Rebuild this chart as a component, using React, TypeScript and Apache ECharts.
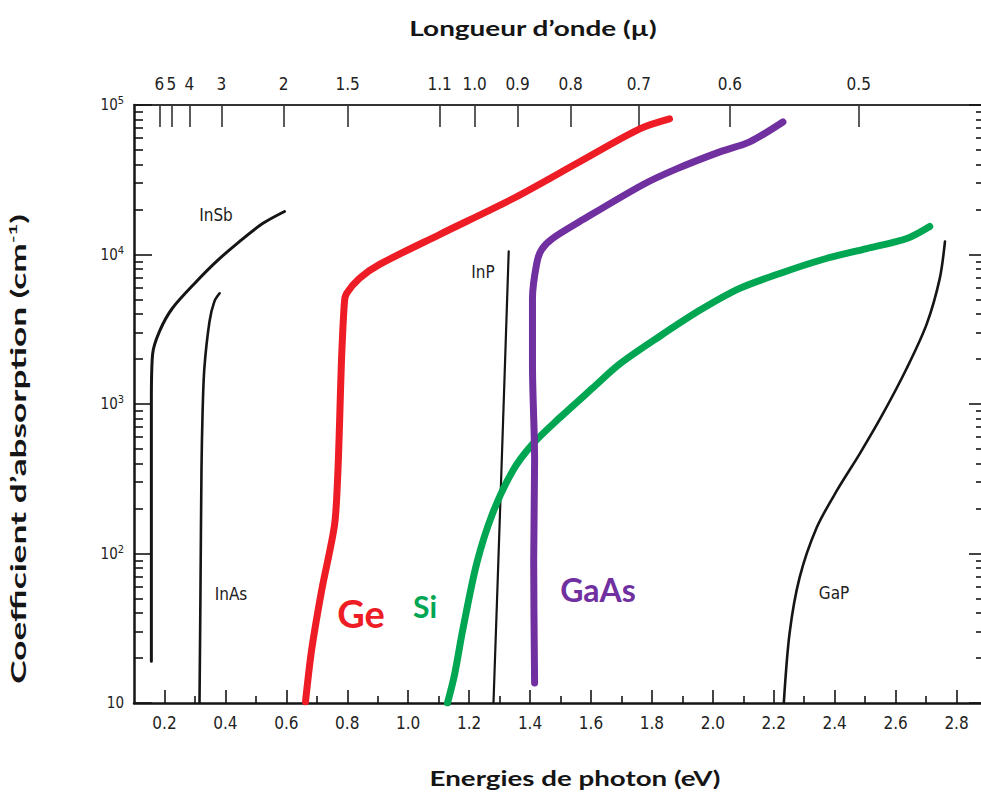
import React, { useEffect, useRef } from "react";
import * as echarts from "echarts";

// Photon energy (eV) vs absorption coefficient (cm^-1), one pair of arrays per material
const inSbEnergy = [0.157, 0.157, 0.161, 0.184, 0.226, 0.305, 0.371, 0.446, 0.522, 0.594];
const inSbAlpha = [19, 1050, 2150, 3070, 4370, 6600, 9000, 12200, 16100, 19400];

const inAsEnergy = [0.315, 0.318, 0.3215, 0.325, 0.331, 0.348, 0.364, 0.381];
const inAsAlpha = [10, 49, 360, 860, 1740, 3580, 4860, 5500];

const geEnergy = [0.663, 0.683, 0.716, 0.758, 0.768, 0.775, 0.781, 0.791, 0.798, 0.84, 0.906, 1.103, 1.343, 1.563, 1.76, 1.858];
const geAlpha = [10.2, 22.6, 56.7, 154, 307, 771, 1940, 4860, 5500, 6920, 8580, 13600, 23600, 41700, 69200, 80700];

const siEnergy = [1.129, 1.152, 1.179, 1.225, 1.277, 1.343, 1.409, 1.497, 1.606, 1.694, 1.826, 1.957, 2.088, 2.22, 2.361, 2.505, 2.637, 2.712];
const siAlpha = [10, 15.4, 30.7, 85.8, 185, 357, 541, 807, 1280, 1850, 2840, 4230, 5930, 7470, 9260, 10960, 12800, 15400];

const inPEnergy = [1.28, 1.305, 1.33];
const inPAlpha = [10, 307, 10500];

const gaAsEnergy = [1.415, 1.412, 1.415, 1.408, 1.408, 1.422, 1.438, 1.474, 1.563, 1.77, 1.881, 2.023, 2.121, 2.23];
const gaAsAlpha = [13.6, 89.9, 417, 1850, 5090, 8710, 10800, 12800, 16600, 29300, 37400, 48600, 56700, 77000];

const gaPEnergy = [2.233, 2.252, 2.285, 2.341, 2.407, 2.482, 2.558, 2.637, 2.702, 2.745, 2.762];
const gaPAlpha = [10, 29.3, 69.2, 149, 263, 464, 858, 1740, 3420, 6920, 12200];

// Bottom axis: photon energy ticks
const energyTicks = [0.2, 0.4, 0.6, 0.8, 1.0, 1.2, 1.4, 1.6, 1.8, 2.0, 2.2, 2.4, 2.6, 2.8];
const energyMinorTicks = [0.3, 0.5, 0.7, 0.9, 1.1, 1.3, 1.5, 1.7, 1.9, 2.1, 2.3, 2.5, 2.7];

// Top axis: wavelength (µ) labels and where they sit on the energy scale
const wavelengthLabels = ["6", "5", "4", "3", "2", "1.5", "1.1", "1.0", "0.9", "0.8", "0.7", "0.6", "0.5"];
const wavelengthTickEnergies = [0.1836, 0.223, 0.282, 0.387, 0.591, 0.801, 1.103, 1.218, 1.359, 1.533, 1.757, 2.056, 2.479];

// Left axis: decades (as exponents), with the 2..9 sub-decade marks
const alphaDecades = [1, 2, 3, 4, 5];
const alphaMinorTicks: number[] = [];
alphaDecades.slice(0, -1).forEach((d) => {
  for (let k = 2; k <= 9; k++) alphaMinorTicks.push(d + Math.log10(k));
});

const X_MIN = 0.1;
const X_MAX = 2.9;

const narrow = "'Liberation Sans Narrow', 'DejaVu Sans Condensed', sans-serif";
const titleFont = "Lato, 'Open Sans', sans-serif";

const RED = "#ee1c24";
const GREEN = "#00a651";
const PURPLE = "#7030a0";
const INK = "#151515";

const pairs = (xs: number[], ys: number[]) => xs.map((x, i) => [x, ys[i]]);

const curve = (name: string, xs: number[], ys: number[], color: string, width: number) => ({
  name,
  type: "line",
  xAxisIndex: 0,
  yAxisIndex: 0,
  data: pairs(xs, ys),
  showSymbol: false,
  smooth: 0.3,
  lineStyle: { color, width, cap: "round", join: "round" },
  z: color === INK ? 3 : 4,
});

const label = (
  text: string,
  x: number,
  y: number,
  color: string,
  size: number,
  weight: string,
  family: string,
  stretch = 1
) => ({
  type: "text",
  x,
  y,
  scaleX: stretch,
  style: {
    text,
    fill: color,
    fontSize: size,
    fontWeight: weight,
    fontFamily: family,
    align: "center",
    verticalAlign: "middle",
    textAlign: "center",
    textVerticalAlign: "middle",
  },
  z: 10,
});

const tickAxisY = (position: string, values: number[], length: number) => ({
  type: "value",
  position,
  min: 1,
  max: 5,
  splitLine: { show: false },
  axisLine: { show: false, onZero: false },
  axisTick: { show: true, inside: true, length, customValues: values, lineStyle: { color: INK, width: 1.6 } },
  axisLabel: { show: false },
});

export default function App() {
  const ref = useRef<HTMLDivElement>(null);

  useEffect(() => {
    if (!ref.current) return;
    const chart = echarts.init(ref.current, undefined, { renderer: "svg" });

    const option: any = {
      animation: false,
      backgroundColor: "#ffffff",
      grid: { left: 134, right: -6, top: 105, bottom: 94, containLabel: false, outerBoundsMode: "none" },
      xAxis: [
        {
          type: "value",
          position: "bottom",
          min: X_MIN,
          max: X_MAX,
          splitLine: { show: false },
          axisLine: { show: true, onZero: false, lineStyle: { color: INK, width: 2.5 } },
          axisTick: { show: true, inside: true, length: 13, customValues: energyTicks, lineStyle: { color: INK, width: 1.6 } },
          axisLabel: {
            show: true,
            customValues: energyTicks,
            margin: 11,
            color: "#222",
            fontSize: 17,
            fontFamily: narrow,
            formatter: (v: number) => v.toFixed(1),
          },
        },
        {
          type: "value",
          position: "bottom",
          min: X_MIN,
          max: X_MAX,
          splitLine: { show: false },
          axisLine: { show: false, onZero: false },
          axisTick: { show: true, inside: true, length: 7, customValues: energyMinorTicks, lineStyle: { color: INK, width: 1.6 } },
          axisLabel: { show: false },
        },
        {
          type: "value",
          position: "top",
          min: X_MIN,
          max: X_MAX,
          splitLine: { show: false },
          axisLine: { show: true, onZero: false, lineStyle: { color: "#333", width: 2 } },
          axisTick: { show: true, inside: true, length: 22, customValues: wavelengthTickEnergies, lineStyle: { color: "#333", width: 1.6 } },
          axisLabel: {
            show: true,
            customValues: wavelengthTickEnergies,
            margin: 13,
            color: "#222",
            fontSize: 17,
            fontFamily: narrow,
            formatter: (v: number) => {
              const i = wavelengthTickEnergies.findIndex((e) => Math.abs(e - v) < 1e-6);
              return i >= 0 ? wavelengthLabels[i] : "";
            },
          },
        },
      ],
      yAxis: [
        {
          type: "log",
          position: "left",
          min: 10,
          max: 100000,
          logBase: 10,
          splitLine: { show: false },
          axisLine: { show: true, onZero: false, lineStyle: { color: INK, width: 2.5 } },
          axisTick: { show: false },
          axisLabel: {
            show: true,
            margin: 10,
            color: "#222",
            fontSize: 15,
            fontFamily: narrow,
            formatter: (v: number) => {
              const p = Math.round(Math.log10(v));
              return p === 1 ? "10" : `10{sup|${p}}`;
            },
            rich: {
              sup: { fontSize: 11, fontFamily: narrow, color: "#222", padding: [0, 0, 9, 0] },
            },
          },
        },
        tickAxisY("left", alphaDecades, 18),
        tickAxisY("left", alphaMinorTicks, 9),
        tickAxisY("right", alphaDecades, 18),
        tickAxisY("right", alphaMinorTicks, 11),
      ],
      series: [
        curve("InSb", inSbEnergy, inSbAlpha, INK, 3),
        curve("InAs", inAsEnergy, inAsAlpha, INK, 2.6),
        curve("InP", inPEnergy, inPAlpha, INK, 2.2),
        curve("GaP", gaPEnergy, gaPAlpha, INK, 2.6),
        curve("Si", siEnergy, siAlpha, GREEN, 7),
        curve("GaAs", gaAsEnergy, gaAsAlpha, PURPLE, 7),
        curve("Ge", geEnergy, geAlpha, RED, 7),
      ],
      graphic: [
        label("Longueur d’onde (µ)", 533, 28, INK, 21, "bold", titleFont, 1.33),
        label("Energies de photon (eV)", 575, 778, INK, 21, "bold", titleFont, 1.32),
        {
          type: "text",
          x: 18,
          y: 449,
          rotation: Math.PI / 2,
          scaleX: 1.68,
          style: {
            text: "Coefficient d’absorption (cm{sup|-1})",
            fill: INK,
            fontSize: 21,
            fontWeight: "bold",
            fontFamily: titleFont,
            align: "center",
            verticalAlign: "middle",
            textAlign: "center",
            textVerticalAlign: "middle",
            rich: {
              sup: { fontSize: 12, fontWeight: "bold", fontFamily: titleFont, fill: INK, padding: [0, 0, 10, 0] },
            },
          },
          z: 10,
        },
        label("InSb", 216, 215, "#222", 17, "normal", narrow),
        label("InAs", 231, 594, "#222", 17, "normal", narrow),
        label("InP", 483, 272, "#222", 17, "normal", narrow),
        label("GaP", 834, 593, "#222", 17, "normal", narrow),
        label("Ge", 361, 613, RED, 38, "bold", titleFont),
        label("Si", 425, 606, GREEN, 30, "bold", titleFont),
        label("GaAs", 598, 589, PURPLE, 32, "bold", titleFont),
      ],
    };

    chart.setOption(option);
    return () => chart.dispose();
  }, []);

  return (
    <div
      ref={ref}
      style={{ position: "fixed", left: 0, top: 0, width: 981, height: 797, background: "#fff" }}
    />
  );
}
